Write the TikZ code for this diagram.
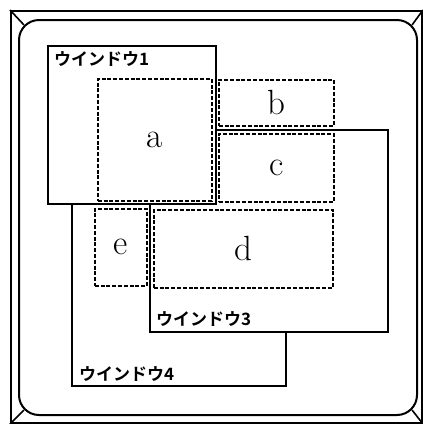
\documentclass[tikz,border=0pt]{standalone}
\usepackage{fontspec}
\newfontfamily\jpfont{Noto Sans CJK JP}[BoldFont={Noto Sans CJK JP Bold}]
\usetikzlibrary{positioning,calc}
\tikzset{
	frame/.style={draw, line width=2pt, anchor=north west, inner sep=0pt},
	win/.style={draw, line width=1.6pt, fill=white, anchor=north west, inner sep=0pt},
	area/.style={draw, line width=1.5pt, dash pattern=on 4pt off 1.8pt, anchor=north west, inner sep=0pt, font=\fontsize{35}{35}\selectfont},
	tag/.style={inner sep=0pt, font=\jpfont\bfseries\fontsize{17}{17}\selectfont}
}

\begin{document}
\begin{tikzpicture}[x=1pt, y=-1pt]
	\useasboundingbox (0,0) rectangle (423,424);
	% display frame
	\node[frame, minimum width=411pt, minimum height=412pt] (bezel) at (10,10) {};
	\node[frame, rounded corners=20pt, minimum width=398pt, minimum height=395pt] (screen) at (18,19) {};
	\draw[line width=1.6pt] (bezel.north west) -- ($(screen.north west)+(5.9,5.9)$);
	\draw[line width=1.6pt] (bezel.north east) -- ($(screen.north east)+(-5.9,5.9)$);
	\draw[line width=1.6pt] (bezel.south east) -- ($(screen.south east)+(-5.9,-5.9)$);
	\draw[line width=1.6pt] (bezel.south west) -- ($(screen.south west)+(5.9,-5.9)$);
	% windows, back to front
	\node[win, minimum width=214pt, minimum height=235pt] (w4) at (71,150) {};
	\node[tag, above right=5pt and 8pt of w4.south west] (t4) {ウインドウ4};
	\node[win, minimum width=238pt, minimum height=202pt] (w3) at (149,129) {};
	\node[tag, above right=6pt and 7pt of w3.south west] (t3) {ウインドウ3};
	\node[win, minimum width=168pt, minimum height=158pt] (w1) at (47,45) {};
	\node[tag, below right=6pt and 7pt of w1.north west] (t1) {ウインドウ1};
	% dashed areas
	\node[area, minimum width=114pt, minimum height=122pt] (a) at (97,78) {a};
	\node[area, minimum width=115pt, minimum height=46pt] (b) at (218,79) {b};
	\node[area, minimum width=115pt, minimum height=68pt] (c) at (218,133) {c};
	\node[area, minimum width=179pt, minimum height=78pt] (d) at (153,209) {d};
	\node[area, minimum width=52pt, minimum height=77pt] (e) at (94,208) {e};
\end{tikzpicture}
\end{document}
